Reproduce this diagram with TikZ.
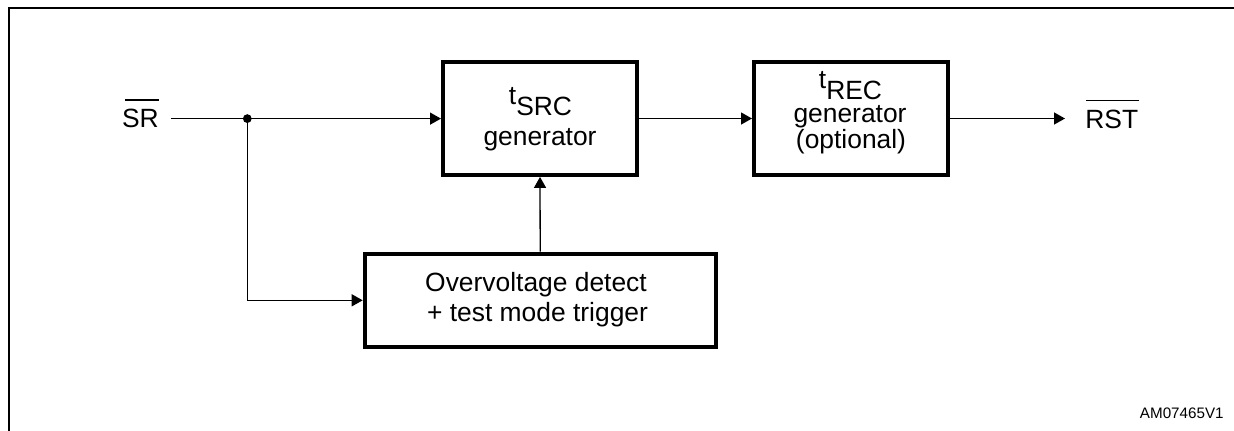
\documentclass[tikz,border=0pt]{standalone}
\usepackage{fontspec}
\setmainfont{Liberation Sans}
\usetikzlibrary{arrows.meta}
\begin{document}
\begin{tikzpicture}[x=0.5pt,y=-0.5pt,
  blk/.style={draw, line width=2pt, inner sep=0pt},
  txt/.style={font=\fontsize{13.2}{15}\selectfont, inner sep=0pt, anchor=base},
  wire/.style={line width=0.65pt},
  arr/.style={wire, -{Triangle[length=5.5pt,width=6pt]}},
  ovl/.style={line width=0.65pt},
  sig/.style={font=\fontsize{13.2}{15}\selectfont, inner ysep=0pt, anchor=base west}]
\useasboundingbox (0,0) rectangle (1234,430);
% frame
\draw[line width=1pt] (9,440) -- (9,8) -- (1240,8);

% blocks
\node[blk, minimum width=97pt, minimum height=56.4pt] (src) at (540,118.5) {};
\node[blk, minimum width=97pt, minimum height=56.4pt] (rec) at (851,118.5) {};
\node[blk, minimum width=175.5pt, minimum height=46.7pt] (ov) at (540.2,300.3) {};

% block texts
\node[txt] (srct) at (540.5,115.7) {\raisebox{5.4pt}{t}SRC};
\node[txt] (srcg) at (540,145) {generator};
\node[txt] (rect) at (850.5,99.3) {\raisebox{5.4pt}{t}REC};
\node[txt] (recg) at (850,122.5) {generator};
\node[txt] (reco) at (851,148) {(optional)};
\node[txt] (ov1) at (536,291.7) {Overvoltage detect};
\node[txt] (ov2) at (537.5,321.7) {+ test mode trigger};

% signals
\node[sig, inner xsep=6pt] (sr) at (109.7,127.7) {SR};
\draw[ovl] ([xshift=7.6pt,yshift=4.5pt]sr.north west) -- ([xshift=-6pt,yshift=4.5pt]sr.north east);
\node[sig, inner xsep=10pt] (rst) at (1065,128.5) {RST};
\draw[ovl] ([xshift=10.5pt,yshift=4.5pt]rst.north west) -- ([xshift=-10pt,yshift=4.5pt]rst.north east);

% connectors
\coordinate (j) at (sr.east -| 247.3,0);
\draw[arr] (sr.east) -- (sr.east -| src.west);
\fill (j) circle[radius=2.2pt];
\draw[arr] (j) |- (ov.west);
\draw[arr] (ov.north) -- (src.south);
\draw[arr] (src.east) -- (src.east -| rec.west);
\draw[arr] (rec.east) -- (rec.east -| rst.west);

% id
\node[font=\fontsize{7.6}{9}\selectfont, inner sep=0pt, anchor=base east] (id) at (1224,418.3) {AM07465V1};
\end{tikzpicture}
\end{document}
